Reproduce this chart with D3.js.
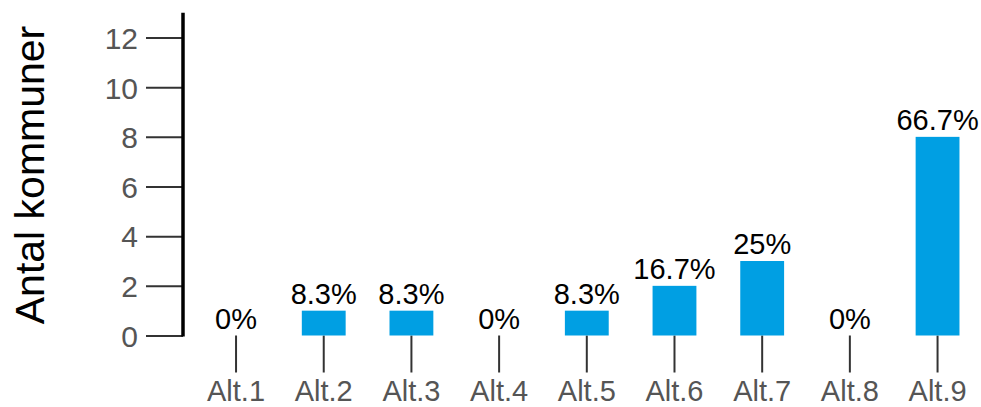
<!DOCTYPE html>
<meta charset="utf-8">
<style>
body { margin: 0; background: #fff; }
text { font-family: Arial, "Liberation Sans", sans-serif; }
</style>
<body>
<script src="https://d3js.org/d3.v7.min.js"></script>
<script>

var categories = ["Alt.1", "Alt.2", "Alt.3", "Alt.4", "Alt.5", "Alt.6", "Alt.7", "Alt.8", "Alt.9"];
var counts = [0, 1, 1, 0, 1, 2, 3, 0, 8];
var percentLabels = ["0%", "8.3%", "8.3%", "0%", "8.3%", "16.7%", "25%", "0%", "66.7%"];
var yTicks = [0, 2, 4, 6, 8, 10, 12];

var width = 981, height = 407;

var svg = d3.select("body").append("svg")
    .attr("width", width)
    .attr("height", height);

var x = d3.scaleBand()
    .domain(categories)
    .range([192.2, 981.4])
    .paddingInner(0.5)
    .paddingOuter(0.25);

var y = d3.scaleLinear()
    .domain([0, 13])
    .range([335.5, 12.7]);

// y axis
var yAxis = svg.append("g")
    .attr("transform", "translate(183,0)")
    .call(d3.axisLeft(y).tickValues(yTicks).tickSize(37).tickPadding(8));

yAxis.select(".domain").remove();
yAxis.selectAll(".tick line").attr("stroke", "#333").attr("stroke-width", 2);
yAxis.selectAll(".tick text")
    .attr("fill", "#555")
    .style("font-size", "30px")
    .attr("dy", "0.36em");

svg.append("line")
    .attr("x1", 183).attr("x2", 183)
    .attr("y1", y(13)).attr("y2", y(0) + 1)
    .attr("stroke", "#000")
    .attr("stroke-width", 3.5);

svg.append("text")
    .attr("transform", "translate(44," + 175 + ") rotate(-90)")
    .attr("text-anchor", "middle")
    .style("font-size", "41px")
    .attr("fill", "#000")
    .text("Antal kommuner");

// x axis (ticks only)
var xAxis = svg.append("g")
    .attr("transform", "translate(0," + y(0) + ")")
    .call(d3.axisBottom(x).tickSize(37).tickPadding(8));

xAxis.select(".domain").remove();
xAxis.selectAll(".tick line").attr("stroke", "#333").attr("stroke-width", 2);
xAxis.selectAll(".tick text")
    .attr("fill", "#555")
    .style("font-size", "29px")
    .attr("dy", "0.71em");

// bars
svg.selectAll("rect.bar")
  .data(counts)
  .enter().append("rect")
    .attr("class", "bar")
    .attr("x", function(d, i) { return x(categories[i]); })
    .attr("y", function(d) { return y(d); })
    .attr("width", x.bandwidth())
    .attr("height", function(d) { return y(0) - y(d); })
    .attr("fill", "#009fe3");

svg.selectAll("text.val")
  .data(counts)
  .enter().append("text")
    .attr("class", "val")
    .attr("x", function(d, i) { return x(categories[i]) + x.bandwidth() / 2; })
    .attr("y", function(d) { return y(d) - 7; })
    .attr("text-anchor", "middle")
    .style("font-size", "29px")
    .attr("fill", "#000")
    .text(function(d, i) { return percentLabels[i]; });

</script>
</body>
